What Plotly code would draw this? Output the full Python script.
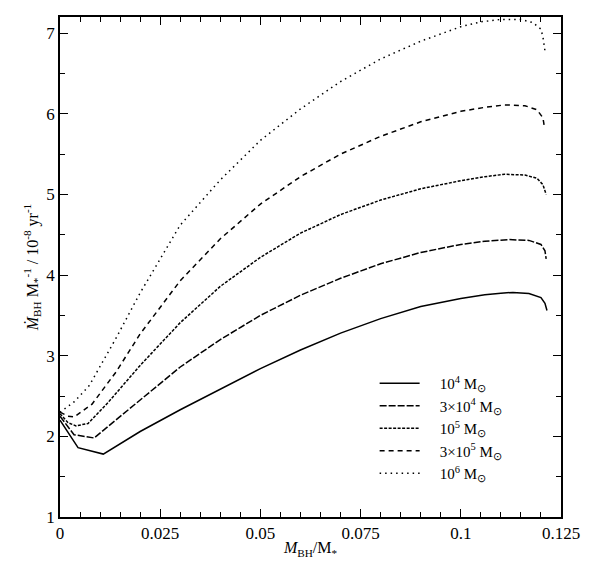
import plotly.graph_objects as go

# ---- data ----
x_1e4 = [0, 0.0045, 0.0108, 0.02, 0.03, 0.04, 0.05, 0.06, 0.07, 0.08, 0.09, 0.1, 0.106, 0.11, 0.113, 0.117, 0.12, 0.121, 0.1215]
y_1e4 = [2.2, 1.86, 1.78, 2.06, 2.33, 2.59, 2.84, 3.07, 3.28, 3.46, 3.61, 3.71, 3.755, 3.775, 3.785, 3.77, 3.72, 3.65, 3.56]

x_3e4 = [0, 0.0035, 0.0085, 0.02, 0.03, 0.04, 0.05, 0.06, 0.07, 0.08, 0.09, 0.1, 0.106, 0.112, 0.117, 0.12, 0.121, 0.1213]
y_3e4 = [2.25, 2.02, 1.98, 2.45, 2.86, 3.2, 3.5, 3.75, 3.96, 4.14, 4.28, 4.38, 4.42, 4.44, 4.43, 4.38, 4.3, 4.2]

x_1e5 = [0, 0.002, 0.004, 0.007, 0.012, 0.02, 0.03, 0.04, 0.05, 0.06, 0.07, 0.08, 0.09, 0.1, 0.106, 0.111, 0.116, 0.119, 0.1205, 0.1213]
y_1e5 = [2.28, 2.17, 2.13, 2.16, 2.42, 2.88, 3.41, 3.86, 4.22, 4.52, 4.75, 4.93, 5.07, 5.17, 5.22, 5.25, 5.24, 5.2, 5.12, 5.0]

x_3e5 = [0, 0.002, 0.0035, 0.008, 0.014, 0.02, 0.03, 0.04, 0.05, 0.06, 0.07, 0.08, 0.09, 0.1, 0.106, 0.111, 0.116, 0.119, 0.1205, 0.1209]
y_3e5 = [2.3, 2.25, 2.24, 2.4, 2.8, 3.27, 3.93, 4.45, 4.88, 5.22, 5.5, 5.72, 5.9, 6.03, 6.08, 6.11, 6.1, 6.05, 5.95, 5.82]

x_1e6 = [0, 0.0036, 0.0073, 0.01, 0.0139, 0.02, 0.03, 0.04, 0.05, 0.06, 0.07, 0.08, 0.09, 0.1, 0.105, 0.11, 0.115, 0.118, 0.12, 0.1205, 0.121]
y_1e6 = [2.3, 2.43, 2.63, 2.86, 3.21, 3.78, 4.62, 5.18, 5.67, 6.06, 6.4, 6.68, 6.9, 7.08, 7.14, 7.17, 7.17, 7.13, 7.05, 6.95, 6.78]

labels = ["10<sup>4</sup> M<sub>⊙</sub>", "3×10<sup>4</sup> M<sub>⊙</sub>", "10<sup>5</sup> M<sub>⊙</sub>",
          "3×10<sup>5</sup> M<sub>⊙</sub>", "10<sup>6</sup> M<sub>⊙</sub>"]
series_x = [x_1e4, x_3e4, x_1e5, x_3e5, x_1e6]
series_y = [y_1e4, y_3e4, y_1e5, y_3e5, y_1e6]
dashes = ["solid", "7px,2px", "3px,1.5px", "5px,4px", "1.5px,4px"]

fig = go.Figure()
for xs, ys, lab, d in zip(series_x, series_y, labels, dashes):
    fig.add_trace(go.Scatter(x=xs, y=ys, mode="lines", name="\u2002\u2002" + lab,
                             line=dict(color="black", width=1.5, dash=d)))

font_family = "Liberation Serif, Times New Roman, serif"
axis_common = dict(
    showline=True, linecolor="black", linewidth=1.5, mirror="allticks",
    ticks="inside", ticklen=8, tickwidth=1.2, tickcolor="black",
    showgrid=False, zeroline=False,
    tickfont=dict(family=font_family, size=17, color="black"),
)
fig.update_xaxes(
    range=[0, 0.125], dtick=0.025, tick0=0,
    minor=dict(dtick=0.005, ticks="inside", ticklen=5, tickwidth=1.2, tickcolor="black", showgrid=False),
    title=dict(text="<i>M</i><sub>BH</sub>/M<sub>*</sub>", font=dict(family=font_family, size=16, color="black"), standoff=0),
    **axis_common,
)
fig.update_yaxes(
    range=[1, 7.2], dtick=1, tick0=1,
    minor=dict(dtick=0.5, ticks="inside", ticklen=5, tickwidth=1.2, tickcolor="black", showgrid=False),
    title=dict(text="<i>M\u0307</i><sub>BH</sub> M<sub>*</sub><sup>-1</sup> / 10<sup>-8</sup> yr<sup>-1</sup>",
               font=dict(family=font_family, size=16, color="black"), standoff=4),
    **axis_common,
)
fig.update_layout(
    width=603, height=561,
    margin=dict(l=52, r=50, t=7, b=52),
    plot_bgcolor="white", paper_bgcolor="white",
    font=dict(family=font_family, size=15, color="black"),
    legend=dict(x=0.628, y=0.3, xanchor="left", yanchor="top",
                bgcolor="rgba(0,0,0,0)", font=dict(family=font_family, size=15, color="black"),
                itemwidth=40, tracegroupgap=0),
    showlegend=True,
)
fig.write_html("out.html")
